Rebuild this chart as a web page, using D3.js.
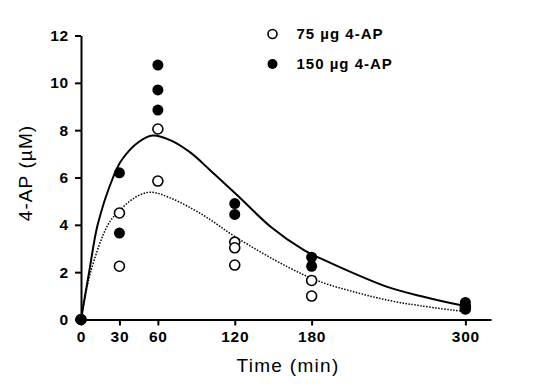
<!DOCTYPE html>
<html>
<head>
<meta charset="utf-8">
<script src="https://cdn.jsdelivr.net/npm/d3@7"></script>
<style>
  body { margin: 0; background: #fff; }
  svg { display: block; font-family: Arial, "Liberation Sans", sans-serif; }
  .tick text { font-weight: bold; font-size: 15.5px; letter-spacing: 0.8px; fill: #000; }
</style>
</head>
<body>
<svg id="chart" width="539" height="389"></svg>
<script>
// measured points (time in min, 4-AP in µM)
const lowTimes = [0, 30, 30, 60, 60, 120, 120, 120, 180, 180, 300, 300];
const lowValues = [0, 4.5, 2.25, 8.05, 5.85, 3.27, 3.03, 2.3, 1.65, 0.99, 0.55, 0.45];
const highTimes = [0, 30, 30, 60, 60, 60, 120, 120, 180, 180, 300, 300, 300];
const highValues = [0, 6.2, 3.65, 10.75, 9.7, 8.85, 4.9, 4.44, 2.63, 2.25, 0.72, 0.58, 0.45];

// fitted curves
const highFitTimes = [0, 6.5, 13, 25, 31.5, 45, 56, 70, 85, 101, 122, 148, 174, 187, 213, 239, 265, 296, 300];
const highFitValues = [0, 2.05, 4, 6, 6.72, 7.5, 7.77, 7.57, 7.07, 6.3, 5.25, 3.92, 2.93, 2.58, 1.95, 1.38, 0.99, 0.61, 0.58];
const lowFitTimes = [0, 7.5, 21, 29, 42, 54, 70, 95, 122, 161, 187, 213, 239, 265, 296, 300];
const lowFitValues = [0, 2, 4, 4.54, 5.15, 5.38, 5.13, 4.42, 3.44, 2.23, 1.59, 1.17, 0.82, 0.58, 0.36, 0.34];

const xTicks = [0, 30, 60, 120, 180, 300];
const yTicks = [0, 2, 4, 6, 8, 10, 12];
const legendLabels = ["75 µg 4-AP", "150 µg 4-AP"];

const svg = d3.select("#chart");
const x = d3.scaleLinear().domain([0, 320]).range([81, 491]);
const y = d3.scaleLinear().domain([0, 12]).range([319.5, 35.5]);

// axes
const xAxis = svg.append("g")
    .attr("transform", `translate(0,${y(0)})`)
    .call(d3.axisBottom(x).tickValues(xTicks).tickSize(6).tickPadding(5).tickSizeOuter(0));
const yAxis = svg.append("g")
    .attr("transform", `translate(${x(0)},0)`)
    .call(d3.axisLeft(y).tickValues(yTicks).tickSize(6).tickPadding(6).tickSizeOuter(0));
[xAxis, yAxis].forEach(a => {
    a.select(".domain").attr("stroke", "#000").attr("stroke-width", 2);
    a.selectAll(".tick line").attr("stroke", "#000").attr("stroke-width", 2);
});

// axis titles
svg.append("text")
    .attr("x", 288).attr("y", 372)
    .attr("text-anchor", "middle")
    .style("font-size", "19px").style("letter-spacing", "1.3px")
    .text("Time (min)");
svg.append("text")
    .attr("transform", "translate(31.5,173) rotate(-90)")
    .attr("text-anchor", "middle")
    .style("font-size", "19px").style("letter-spacing", "1.1px")
    .text("4-AP (µM)");

// fitted curves
const line = d3.line().x(d => x(d[0])).y(d => y(d[1])).curve(d3.curveCatmullRom);
svg.append("path")
    .datum(d3.zip(lowFitTimes, lowFitValues))
    .attr("d", line)
    .attr("fill", "none").attr("stroke", "#000")
    .attr("stroke-width", 1.5).attr("stroke-dasharray", "1.5,1.5");
svg.append("path")
    .datum(d3.zip(highFitTimes, highFitValues))
    .attr("d", line)
    .attr("fill", "none").attr("stroke", "#000")
    .attr("stroke-width", 2);

// points
svg.append("g").selectAll("circle")
    .data(d3.zip(lowTimes, lowValues))
    .join("circle")
    .attr("cx", d => x(d[0])).attr("cy", d => y(d[1])).attr("r", 5)
    .attr("fill", "#fff").attr("stroke", "#000").attr("stroke-width", 1.6);
svg.append("g").selectAll("circle")
    .data(d3.zip(highTimes, highValues))
    .join("circle")
    .attr("cx", d => x(d[0])).attr("cy", d => y(d[1])).attr("r", 5.5)
    .attr("fill", "#000");

// legend
const legend = svg.append("g").selectAll("g")
    .data(legendLabels)
    .join("g")
    .attr("transform", (d, i) => `translate(272.5,${34 + i * 30})`);
legend.append("circle")
    .attr("r", (d, i) => i == 0 ? 4.5 : 5)
    .attr("fill", (d, i) => i == 0 ? "#fff" : "#000")
    .attr("stroke", "#000").attr("stroke-width", (d, i) => i == 0 ? 1.6 : 0);
legend.append("text")
    .attr("x", 24).attr("dy", "0.36em")
    .style("font-size", "15px").style("font-weight", "bold").style("letter-spacing", "1px")
    .text(d => d);
</script>
</body>
</html>
